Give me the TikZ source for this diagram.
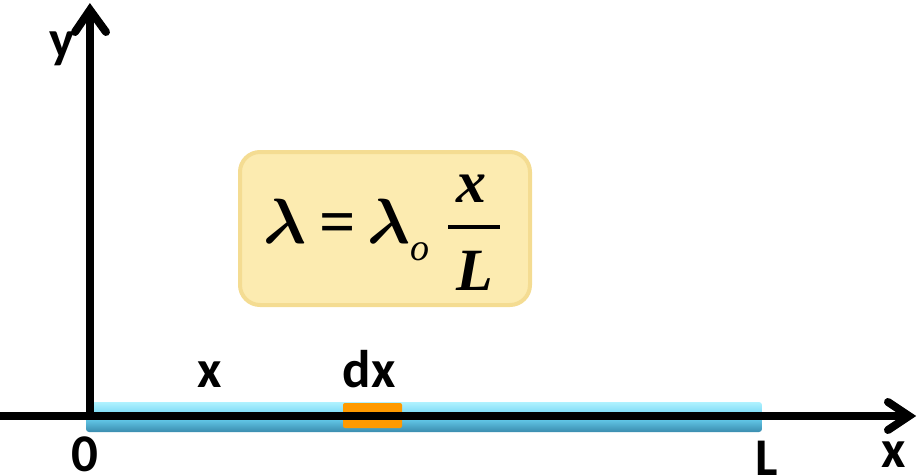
\documentclass[tikz,border=0pt]{standalone}
\usepackage{fontspec}
\usepackage{graphicx}
\setmainfont{Carlito}
\newfontfamily\fserif{Liberation Serif}
\usetikzlibrary{calc}
\definecolor{rodtop}{HTML}{B0F2FF}
\definecolor{rodmid}{HTML}{6AD2F2}
\definecolor{rodbot}{HTML}{3A8CAE}
\definecolor{dxorange}{HTML}{FF9A00}
\definecolor{boxfill}{HTML}{FCEBB0}
\definecolor{boxedge}{HTML}{F4DC92}
\newcommand{\biglam}{\scalebox{6.4}{\boldmath$\lambda$}}
\tikzset{
  axis/.style={line width=8pt, black},
  chev/.style={line width=8pt, black, line cap=round, line join=miter},
  lbl/.style={font=\fontsize{53}{60}\selectfont\bfseries, anchor=base, inner sep=0pt},
  fml/.style={anchor=base, inner sep=0pt},
  fmlfrac/.style={font=\fserif\fontsize{60}{64}\selectfont\bfseries\itshape, anchor=base, inner sep=0pt},
}
\begin{document}
\begin{tikzpicture}[x=1pt,y=-1pt]
\useasboundingbox (0,0) rectangle (920,476);
% formula box
\node[draw=boxedge, line width=4pt, fill=boxfill, rounded corners=20pt,
      minimum width=290pt, minimum height=153pt, inner sep=0pt] (box) at (385,228.5) {};
\node[fml] (lam1) at (285,243) {\biglam};
\node[fml, font=\fserif\fontsize{64}{70}\selectfont\bfseries] (eq) at (338,243) {=};
\node[fml] (lam2) at (389,243) {\biglam};
\node[fml, font=\fserif\fontsize{38}{42}\selectfont\itshape] (sub) at (420,260) {o};
\node[fmlfrac] (num) at (471,202) {x};
\node[fmlfrac] (den) at (475,290) {L};
\coordinate (barL) at (448,227);
\coordinate (barR) at (500,227);
\draw[line width=3.5pt] (barL) -- (barR);
% rod
\shade[top color=rodtop, bottom color=rodbot, middle color=rodmid, rounded corners=3pt]
  (86,402) rectangle (762,432);
\fill[dxorange, rounded corners=2pt] (343,403) rectangle (402,428);
% axes
\coordinate (xs) at (0,416);
\coordinate (xe) at (909,416);
\coordinate (ys) at (90,420);
\coordinate (ye) at (90,10);
\draw[axis] (xs) -- (xe);
\draw[axis] (ys) -- (ye);
\draw[chev] ($(xe)+(-21,-14)$) -- (xe) -- ($(xe)+(-21,14)$);
\draw[chev] ($(ye)+(-15,22)$) -- (ye) -- ($(ye)+(16,22)$);
% labels
\node[lbl] (ylab) at (62,58) {y};
\node[lbl] (xlab) at (210,387) {x};
\node[lbl] (dxlab) at (369,387) {dx};
\node[lbl] (zero) at (85,471) {0};
\node[lbl] (Llab) at (767,475) {L};
\node[lbl] (xaxlab) at (894,467) {x};
\end{tikzpicture}
\end{document}
